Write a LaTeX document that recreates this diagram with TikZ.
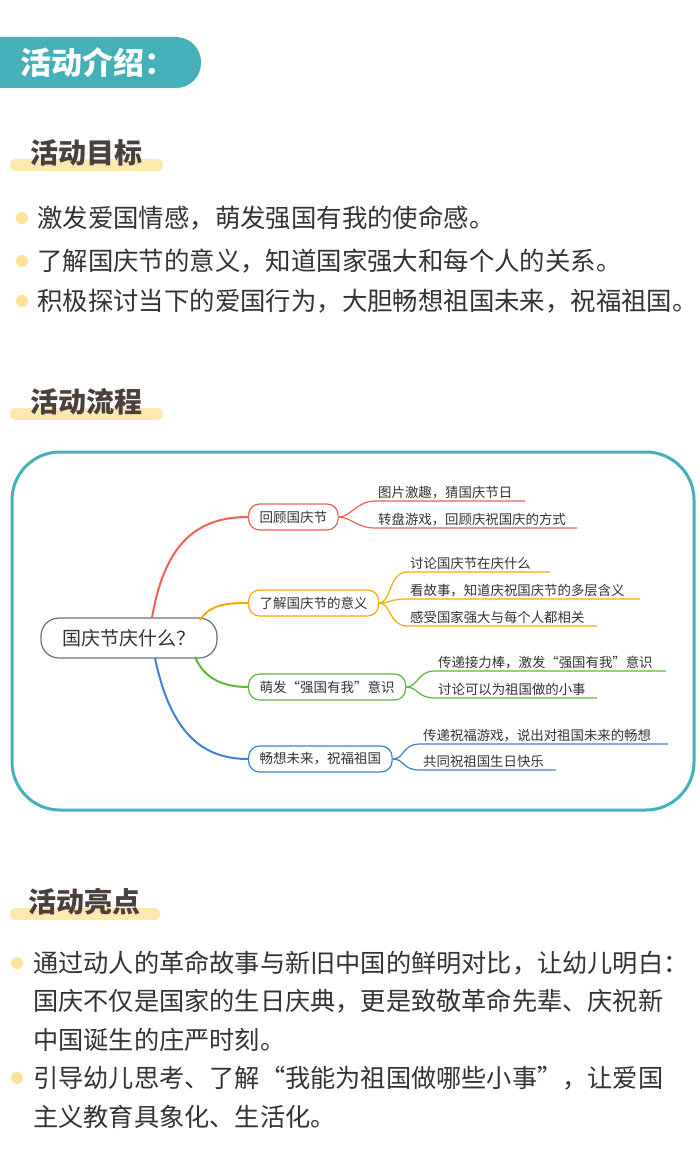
\documentclass[tikz,border=0pt]{standalone}
\usepackage{fontspec}
\setmainfont{Noto Sans CJK SC}
\definecolor{teal}{HTML}{45B0B8}
\definecolor{hilite}{HTML}{FDE9B0}
\definecolor{dotyel}{HTML}{FDE39A}
\definecolor{heading}{HTML}{4A403C}
\definecolor{ink}{HTML}{333333}
\definecolor{mred}{HTML}{F0614F}
\definecolor{morange}{HTML}{FFA800}
\definecolor{mgreen}{HTML}{5DB83B}
\definecolor{mblue}{HTML}{3F7FD8}
\definecolor{mroot}{HTML}{6B6F80}
\begin{document}
\begin{tikzpicture}[x=1pt,y=-1pt,
  sechead/.style={anchor=west, text=heading, font=\fontsize{28}{32}\selectfont\bfseries, inner sep=0},
  bullettext/.style={anchor=west, text=ink, font=\fontsize{#1}{30}\selectfont, inner sep=0},
  branch/.style={draw=#1, line width=1.2pt, rounded corners=11pt, minimum height=26pt, inner xsep=11pt, font=\fontsize{13.5}{15}\selectfont, text=ink},
  leaf/.style={anchor=south west, font=\fontsize{13.4}{15}\selectfont, text=ink, inner sep=2pt},
  twig/.style={draw=#1, line width=1.2pt}]
\useasboundingbox (0,0) rectangle (700,1166);
\fill[white] (0,0) rectangle (700,1166);
% header
\fill[teal, rounded corners=25pt] (-40,37) rectangle (201,88);
\node[anchor=west, text=white, font=\fontsize{31}{34}\selectfont\bfseries, inner sep=0] (title) at (20,62) {活动介绍：};
% section 1
\fill[hilite, rounded corners=5pt] (10,159) rectangle (163,171);
\node[sechead] (goal) at (30,153) {活动目标};
\foreach \yy/\txt [count=\i] in {218/激发爱国情感，萌发强国有我的使命感。,
    261/了解国庆节的意义，知道国家强大和每个人的关系。,
    301/积极探讨当下的爱国行为，大胆畅想祖国未来，祝福祖国。}{
  \fill[dotyel] (22,\yy) circle (6);
  \node[bullettext=25.4] (goal\i) at (37,\yy) {\txt};
}
% section 2
\fill[hilite, rounded corners=5pt] (10,408) rectangle (163,420);
\node[sechead] (flow) at (30,402) {活动流程};
\draw[teal, line width=3pt, rounded corners=48pt] (12,452) rectangle (694,810);
% mind map
\node[draw=mroot, line width=1.2pt, rounded corners=18pt, minimum width=176pt, minimum height=40pt, font=\fontsize{19}{22}\selectfont, text=ink] (root) at (129,638) {国庆节庆什么？};
\node[branch=mred, anchor=west] (b1) at (248,517) {回顾国庆节};
\node[branch=morange, anchor=west] (b2) at (248,603) {了解国庆节的意义};
\node[branch=mgreen, anchor=west] (b3) at (248,687) {萌发“强国有我”意识};
\node[branch=mblue, anchor=west] (b4) at (248,759) {畅想未来，祝福祖国};
\draw[twig=mred, line width=2pt] (152,618) .. controls (165,540) and (200,517) .. (b1.west);
\draw[twig=morange, line width=2pt] (200,620) .. controls (210,605) and (225,603) .. (b2.west);
\draw[twig=mgreen, line width=2pt] (195,657) .. controls (205,680) and (225,687) .. (b3.west);
\draw[twig=mblue, line width=2pt] (155,658) .. controls (170,730) and (200,759) .. (b4.west);
% leaves
\foreach \b/\c/\x/\y/\e/\txt [count=\j] in {
  b1/mred/375/501/525/图片激趣，猜国庆节日,
  b1/mred/375/528/577/转盘游戏，回顾庆祝国庆的方式,
  b2/morange/407/572/550/讨论国庆节在庆什么,
  b2/morange/407/599/640/看故事，知道庆祝国庆节的多层含义,
  b2/morange/407/626/597/感受国家强大与每个人都相关,
  b3/mgreen/435/671/666/传递接力棒，激发“强国有我”意识,
  b3/mgreen/435/698/597/讨论可以为祖国做的小事,
  b4/mblue/420/744/668/传递祝福游戏，说出对祖国未来的畅想,
  b4/mblue/420/770/556/共同祝祖国生日快乐}{
  \coordinate (s\j) at (\x,\y);
  \draw[twig=\c] (\b.east) .. controls ([xshift=12pt]\b.east) and ([xshift=-18pt]s\j) .. (s\j) -- (\e,\y);
  \node[leaf] (l\j) at ([xshift=1pt]s\j) {\txt};
}
% section 3
\fill[hilite, rounded corners=5pt] (10,908) rectangle (160,920);
\node[sechead] (point) at (28,902) {活动亮点};
\fill[dotyel] (17,963) circle (6);
\node[bullettext=25.2] (p1a) at (33,963) {通过动人的革命故事与新旧中国的鲜明对比，让幼儿明白：};
\node[bullettext=25.2] (p1b) at (33,1001) {国庆不仅是国家的生日庆典，更是致敬革命先辈、庆祝新};
\node[bullettext=25.2] (p1c) at (33,1040) {中国诞生的庄严时刻。};
\fill[dotyel] (17,1078) circle (6);
\node[bullettext=25.2] (p2a) at (33,1078) {引导幼儿思考、了解“我能为祖国做哪些小事”，让爱国};
\node[bullettext=25.2] (p2b) at (33,1117) {主义教育具象化、生活化。};
\end{tikzpicture}
\end{document}
